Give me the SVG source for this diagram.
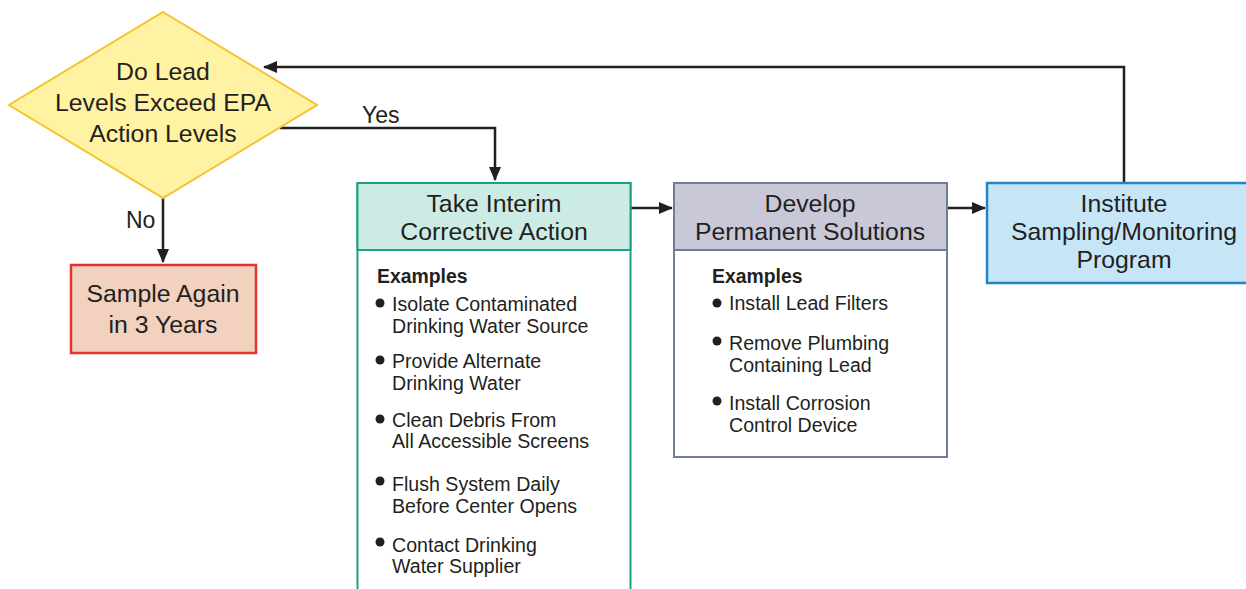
<svg xmlns="http://www.w3.org/2000/svg" width="1246" height="589" viewBox="0 0 1246 589">
<defs>
<marker id="arr" viewBox="0 0 14 12" refX="13" refY="6" markerWidth="14" markerHeight="12" markerUnits="userSpaceOnUse" orient="auto">
<path d="M0,0 L14,6 L0,12 Z" fill="#231F20"/>
</marker>
</defs>
<style>
text{font-family:"Liberation Sans",Arial,sans-serif;fill:#231F20}
.t{font-size:24.8px;text-anchor:middle}
.b{font-size:19.6px}
.h{font-size:19.4px;font-weight:bold}
.lbl{font-size:23px}
.c{fill:none;stroke:#231F20;stroke-width:2.5}
.dot{fill:#231F20}
</style>
<rect width="1246" height="589" fill="#fff"/>
<g id="connectors">
<path class="c" d="M1124,183 L1124,67 L264,67" marker-end="url(#arr)"/>
<path class="c" d="M280,128 L495,128 L495,180" marker-end="url(#arr)"/>
<path class="c" d="M163,198 L163,262" marker-end="url(#arr)"/>
<path class="c" d="M631,208 L672,208" marker-end="url(#arr)"/>
<path class="c" d="M947,208 L985,208" marker-end="url(#arr)"/>
<text class="lbl" x="362" y="123">Yes</text>
<text class="lbl" x="126" y="228">No</text>
</g>
<g id="decision">
<polygon points="163,12 317,105 163,198 9,105" fill="#FFF2A3" stroke="#F7C22C" stroke-width="2"/>
<text class="t" x="163" y="80">Do Lead</text>
<text class="t" x="163" y="111">Levels Exceed EPA</text>
<text class="t" x="163" y="142">Action Levels</text>
</g>
<g id="sample-again">
<rect x="71" y="265" width="185" height="88" fill="#F2D1BF" stroke="#E0352B" stroke-width="2.5"/>
<text class="t" x="163" y="302">Sample Again</text>
<text class="t" x="163" y="333">in 3 Years</text>
</g>
<g id="interim">
<rect x="357.5" y="183" width="273" height="420" fill="#fff" stroke="#1BA088" stroke-width="2"/>
<rect x="357.5" y="183" width="273" height="67" fill="#CDEBE5" stroke="#1BA088" stroke-width="2"/>
<text class="t" x="494" y="212">Take Interim</text>
<text class="t" x="494" y="240">Corrective Action</text>
<text class="h" x="377" y="283">Examples</text>
<circle class="dot" cx="380" cy="303" r="4.5"/>
<text class="b" x="392" y="311">Isolate Contaminated</text>
<text class="b" x="392" y="333">Drinking Water Source</text>
<circle class="dot" cx="380" cy="360" r="4.5"/>
<text class="b" x="392" y="368">Provide Alternate</text>
<text class="b" x="392" y="390">Drinking Water</text>
<circle class="dot" cx="380" cy="419" r="4.5"/>
<text class="b" x="392" y="427">Clean Debris From</text>
<text class="b" x="392" y="448">All Accessible Screens</text>
<circle class="dot" cx="380" cy="481" r="4.5"/>
<text class="b" x="392" y="491">Flush System Daily</text>
<text class="b" x="392" y="513">Before Center Opens</text>
<circle class="dot" cx="380" cy="542" r="4.5"/>
<text class="b" x="392" y="552">Contact Drinking</text>
<text class="b" x="392" y="573">Water Supplier</text>
</g>
<g id="permanent">
<rect x="674" y="183" width="273" height="274" fill="#fff" stroke="#6F7D95" stroke-width="2"/>
<rect x="674" y="183" width="273" height="67" fill="#C9C8D9" stroke="#6F7D95" stroke-width="2"/>
<text class="t" x="810" y="212">Develop</text>
<text class="t" x="810" y="240">Permanent Solutions</text>
<text class="h" x="712" y="283">Examples</text>
<circle class="dot" cx="717" cy="303" r="4.5"/>
<text class="b" x="729" y="310">Install Lead Filters</text>
<circle class="dot" cx="717" cy="341" r="4.5"/>
<text class="b" x="729" y="350">Remove Plumbing</text>
<text class="b" x="729" y="372">Containing Lead</text>
<circle class="dot" cx="717" cy="401" r="4.5"/>
<text class="b" x="729" y="410">Install Corrosion</text>
<text class="b" x="729" y="432">Control Device</text>
</g>
<g id="institute">
<rect x="987" y="183" width="262" height="100" fill="#C6E6F8" stroke="#1E87C8" stroke-width="2.5"/>
<text class="t" x="1124" y="212">Institute</text>
<text class="t" x="1124" y="240">Sampling/Monitoring</text>
<text class="t" x="1124" y="268">Program</text>
</g>
</svg>
